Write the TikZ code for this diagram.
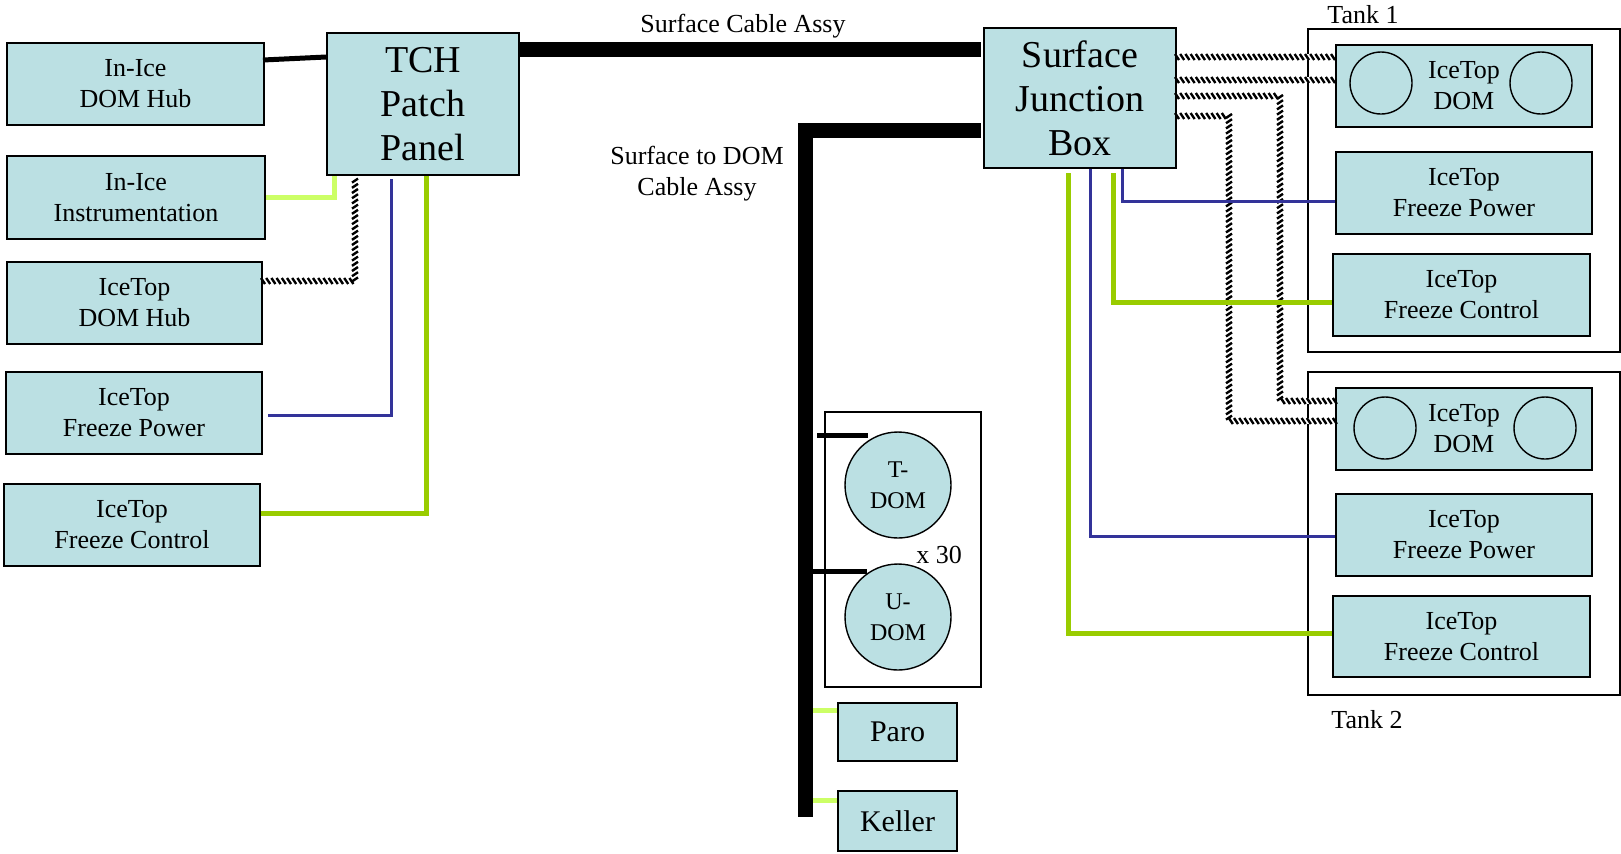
\documentclass[tikz,border=0pt]{standalone}
\usepackage{fontspec}
\setmainfont{Liberation Serif}
\usetikzlibrary{calc,decorations.markings}
\definecolor{boxblue}{HTML}{BBE0E3}
\definecolor{pblue}{HTML}{333399}
\definecolor{pgreen}{HTML}{99CC00}
\definecolor{lgreen}{HTML}{CCFF66}
\begin{document}
\begin{tikzpicture}[x=0.5pt,y=-0.5pt,
 box/.style={draw=black, fill=boxblue, line width=1pt, inner sep=0pt, align=center, font=\fontsize{13}{15.5}\selectfont},
 bigbox/.style={box, font=\fontsize{19}{22}\selectfont},
 midbox/.style={box, font=\fontsize{15}{18}\selectfont},
 dombig/.style={circle, draw=black, fill=boxblue, line width=0.7pt, inner sep=0pt, minimum size=53pt, align=center, font=\fontsize{12}{15.5}\selectfont},
 domc/.style={circle, draw=black, line width=0.7pt, inner sep=0pt, minimum size=31pt},
 frame/.style={draw=black, line width=0.8pt, inner sep=0pt},
 lbl/.style={inner sep=0pt, align=center, font=\fontsize{13}{15.5}\selectfont},
 cable/.style={line width=7.5pt, black},
 stub/.style={line width=2.5pt, black},
 sensor/.style={line width=2.5pt, lgreen},
 power/.style={line width=1.5pt, pblue},
 control/.style={line width=2.5pt, pgreen},
 twisted/.style={line width=3.2pt, white, postaction={decorate, decoration={markings, mark=between positions 0 and 1 step 2.6pt with {\draw[black, line width=1.2pt] (-1pt,1.5pt) -- (1pt,-1.5pt);}}}},
]
\useasboundingbox (0,0) rectangle (1621,853);

% frames
\node[frame, minimum width=156pt, minimum height=161.5pt] (tank1) at (1464,190.5) {};
\node[frame, minimum width=156pt, minimum height=161.5pt] (tank2) at (1464,533.5) {};
\node[frame, minimum width=78pt, minimum height=137.5pt] (grp) at (903,549.5) {};

% left boxes
\node[box, minimum width=128.5pt, minimum height=41pt] (hub) at (135.5,84) {In-Ice\\DOM Hub};
\node[box, minimum width=129pt, minimum height=41.5pt] (inst) at (136,197.5) {In-Ice\\Instrumentation};
\node[box, minimum width=127.5pt, minimum height=41pt] (ithub) at (134.5,303) {IceTop\\DOM Hub};
\node[box, minimum width=128pt, minimum height=41pt] (fpow) at (134,413) {IceTop\\Freeze Power};
\node[box, minimum width=128pt, minimum height=41pt] (fctl) at (132,525) {IceTop\\Freeze Control};

% central boxes
\node[bigbox, minimum width=96pt, minimum height=71pt] (tch) at (423,104) {TCH\\Patch\\Panel};
\node[bigbox, minimum width=96pt, minimum height=70pt] (sjb) at (1080,98) {Surface\\Junction\\Box};

% tank 1
\node[box, minimum width=128pt, minimum height=41pt] (dom1) at (1464,86) {IceTop\\DOM};
\node[domc] (c1a) at (1381,83) {};
\node[domc] (c1b) at (1541,83) {};
\node[box, minimum width=128pt, minimum height=41pt] (pow1) at (1464,193) {IceTop\\Freeze Power};
\node[box, minimum width=128.5pt, minimum height=41pt] (ctl1) at (1461.5,295) {IceTop\\Freeze Control};

% tank 2
\node[box, minimum width=128pt, minimum height=41pt] (dom2) at (1464,429) {IceTop\\DOM};
\node[domc] (c2a) at (1385,428) {};
\node[domc] (c2b) at (1545,428) {};
\node[box, minimum width=128pt, minimum height=41pt] (pow2) at (1464,535) {IceTop\\Freeze Power};
\node[box, minimum width=128.5pt, minimum height=40.5pt] (ctl2) at (1461.5,636.5) {IceTop\\Freeze Control};

% string
\node[dombig] (tdom) at (898,485) {T-\\DOM};
\node[dombig] (udom) at (898,617) {U-\\DOM};
\node[midbox, minimum width=59.5pt, minimum height=29pt] (paro) at (897.5,732) {Paro};
\node[midbox, minimum width=59.5pt, minimum height=30pt] (keller) at (897.5,821) {Keller};

% labels
\node[lbl] (lsca) at (743,26) {Surface Cable Assy};
\node[lbl] (lsdc) at (697,174) {Surface to DOM\\Cable Assy};
\node[lbl] (lt1) at (1363,15) {Tank 1};
\node[lbl] (lt2) at (1367,720) {Tank 2};
\node[lbl] (lx30) at (939,555) {x 30};

% left connectors
\draw[twisted] ($(ithub.north east)+(0,20)$) -| ($(tch.south west)+(29,3)$);
\draw[stub] ($(hub.north east)+(-2,18)$) -- ($(tch.north west)+(0,25)$);
\draw[sensor] (inst.east) -| ($(tch.south west)+(8,0)$);
\draw[power] ($(fpow.east)+(5,2)$) -| ($(tch.south west)+(65,3)$);
\draw[control] ($(fctl.east)+(0,-12)$) -| ($(tch.south west)+(100,0)$);

% cables
\draw[cable] ($(tch.north east)+(0,17)$) -- ($(sjb.north west)+(-2,22)$);
\coordinate (busend) at (805.5,817);
\draw[cable, line join=miter] ($(sjb.north west)+(-2,103)$) -| (busend);
\draw[stub] ($(busend |- tdom.north)+(11.5,4)$) -- ($(tdom.north)+(-30,4)$);
\draw[stub] ($(busend |- udom.north)+(7.5,8)$) -- ($(udom.north)+(-31,8)$);
\draw[sensor] ($(busend |- paro.north)+(7.5,8)$) -- ($(paro.north west)+(0,8)$);
\draw[sensor] ($(busend |- keller.north)+(7.5,10)$) -- ($(keller.north west)+(0,10)$);

% SJB to tanks
\draw[twisted] ($(sjb.north east)+(0,30)$) -- ($(dom1.north west)+(0,13)$);
\draw[twisted] ($(sjb.north east)+(0,53)$) -- ($(dom1.north west)+(0,36)$);
\draw[twisted] ($(sjb.north east)+(0,69)$) -| ($(dom2.north west)+(-55,14)$) -- ($(dom2.north west)+(0,14)$);
\draw[twisted] ($(sjb.north east)+(0,89)$) -| ($(dom2.north west)+(-106,34)$) -- ($(dom2.north west)+(0,34)$);
\draw[power] ($(sjb.south east)+(-55,0)$) |- ($(pow1.west)+(0,8)$);
\draw[control] ($(sjb.south east)+(-64,4)$) |- ($(ctl1.west)+(0,7)$);
\draw[power] ($(sjb.south east)+(-87,0)$) |- ($(pow2.west)+(0,1)$);
\draw[control] ($(sjb.south east)+(-109,4)$) |- ($(ctl2.west)+(0,-3.5)$);
\end{tikzpicture}
\end{document}
